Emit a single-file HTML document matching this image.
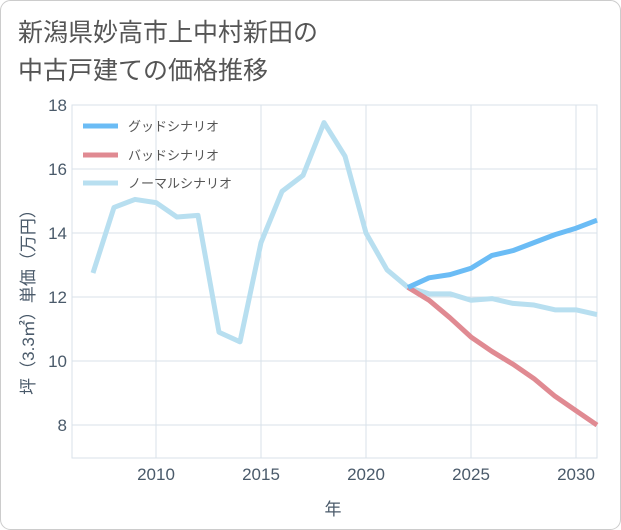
<!DOCTYPE html>
<html><head><meta charset="utf-8"><style>
body{margin:0;background:#fff;}
svg{display:block;font-family:"Liberation Sans","Noto Sans CJK JP",sans-serif;}
</style></head><body>
<svg id="c" width="621" height="530" viewBox="0 0 621 530">
<rect x="0.5" y="0.5" width="620" height="529" rx="10" fill="#fff" stroke="#ccc"/>
<text x="18" y="41" font-size="25" fill="#555">新潟県妙高市上中村新田の</text>
<text x="18" y="79" font-size="25" fill="#555">中古戸建ての価格推移</text>
<g id="grid"></g><g id="axes"></g><g id="lines"></g>
<text x="333" y="515" font-size="17" fill="#4a5a6a" text-anchor="middle">年</text>
<text transform="translate(34,298) rotate(-90)" font-size="17" fill="#4a5a6a" text-anchor="middle">坪（3.3㎡）単価（万円）</text>
<g>
<line x1="83" y1="126" x2="118" y2="126" stroke="#6bbcf5" stroke-width="5"/>
<text x="128" y="131" font-size="13" fill="#555">グッドシナリオ</text>
<line x1="83" y1="155" x2="118" y2="155" stroke="#e08a92" stroke-width="5"/>
<text x="128" y="160" font-size="13" fill="#555">バッドシナリオ</text>
<line x1="83" y1="183" x2="118" y2="183" stroke="#b8dff0" stroke-width="5"/>
<text x="128" y="188" font-size="13" fill="#555">ノーマルシナリオ</text>
</g>
</svg>
<script>
const normalYears=[2007,2008,2009,2010,2011,2012,2013,2014,2015,2016,2017,2018,2019,2020,2021,2022,2023,2024,2025,2026,2027,2028,2029,2030,2031];
const normalValues=[12.75,14.8,15.05,14.95,14.5,14.55,10.9,10.6,13.7,15.3,15.8,17.45,16.4,14.0,12.85,12.3,12.1,12.1,11.9,11.95,11.8,11.75,11.6,11.6,11.45];
const forecastYears=[2022,2023,2024,2025,2026,2027,2028,2029,2030,2031];
const goodValues=[12.3,12.6,12.7,12.9,13.3,13.45,13.7,13.95,14.15,14.4];
const badValues=[12.3,11.9,11.35,10.75,10.3,9.9,9.45,8.9,8.45,8.0];
const xTicks=[2010,2015,2020,2025,2030];
const yTicks=[8,10,12,14,16,18];
const NS='http://www.w3.org/2000/svg';
const L=72,R=597,T=105,B=458;
const xMin=2006,xMax=2031,yMin=6.97,yMax=18;
const x=v=>L+(v-xMin)/(xMax-xMin)*(R-L);
const y=v=>B-(v-yMin)/(yMax-yMin)*(B-T);
function mk(tag,attrs,parent){const e=document.createElementNS(NS,tag);for(const k in attrs)e.setAttribute(k,attrs[k]);document.getElementById(parent).appendChild(e);return e;}
const plot=mk('rect',{x:L,y:T,width:R-L,height:B-T,fill:'none',stroke:'#d8e2ea'},'grid');


xTicks.forEach(t=>{
 const g=mk('line',{x1:x(t),x2:x(t),y1:T,y2:B,stroke:'#d8e2ea'},'grid');
 
 
 const tx=mk('text',{x:x(t),y:B+22,'font-size':17,fill:'#4a5a6a','text-anchor':'middle'},'axes');
 tx.textContent=t;
 
 
});
yTicks.forEach(t=>{
 const g=mk('line',{x1:L,x2:R,y1:y(t),y2:y(t),stroke:'#d8e2ea'},'grid');
 
 
 const tx=mk('text',{x:L-5,y:y(t)+6,'font-size':17,fill:'#4a5a6a','text-anchor':'end'},'axes');
 tx.textContent=t;
 
 
});
function line(xs,vs,color,name){
 const p=mk('polyline',{points:xs.map((d,i)=>x(d)+','+y(vs[i])).join(' '),fill:'none',stroke:color,'stroke-width':5,'stroke-linejoin':'round'},'lines');
 
 
}
line(normalYears,normalValues,'#b8dff0','normal-scenario-line');
line(forecastYears,badValues,'#e08a92','bad-scenario-line');
line(forecastYears,goodValues,'#6bbcf5','good-scenario-line');
</script>
</body></html>
